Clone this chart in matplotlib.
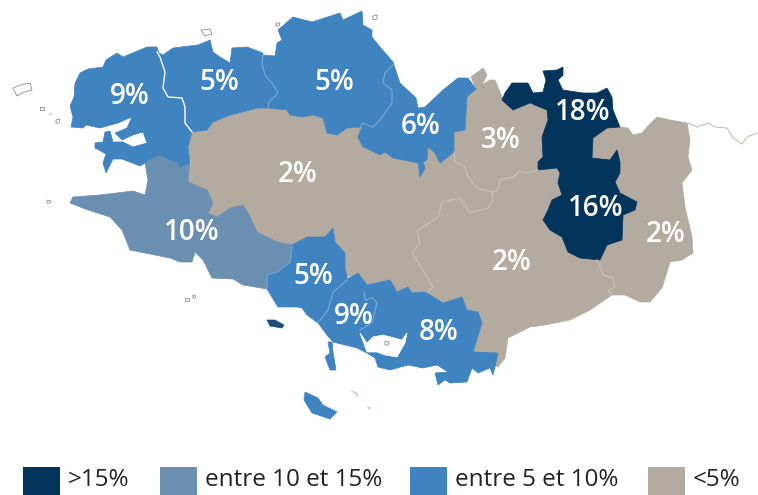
"""Brittany choropleth, outlines traced in image pixels (758x495)."""
import matplotlib
matplotlib.use("Agg")
import matplotlib.pyplot as plt
from matplotlib.patches import Polygon, Rectangle

DARK = "#03345c"
STEEL = "#6a8fb0"
BLUE = "#4083c1"
TAN = "#b3aaa0"

tan_outline = [
    (192,132),(207,130),(213,122),(230,115),(258,108),(268,108),(287,110),(290,115),(302,117),(313,115),
    (323,118),(327,133),(337,135),(347,128),(362,127),(358,137),(363,147),(370,150),(380,155),(385,152),
    (393,158),(403,160),(418,163),(420,177),(425,168),(423,162),(427,160),(428,147),(435,153),(440,163),
    (454,152),(454,132),(465,130),(467,97),(476,89),(471,77),(483,68),(487,75),(482,85),(490,80),(495,80),
    (502,97),(620,127),(628,128),(633,135),(642,133),(647,127),(657,117),(670,120),(687,123),(690,140),
    (688,157),(692,170),(682,183),(685,207),(692,237),(693,253),(682,260),(670,262),(662,288),(650,302),
    (640,302),(625,295),(612,295),(590,310),(570,320),(545,325),(530,327),(508,338),(505,358),(498,367),
    (473,352),(482,323),(478,312),(467,310),(462,297),(443,303),(425,292),(412,293),(408,287),(397,292),
    (390,280),(367,285),(358,273),(347,277),(345,268),(345,253),(335,242),(333,228),(325,237),(307,237),
    (292,245),(277,242),(257,232),(248,213),(243,205),(230,208),(217,217),(208,213),(213,203),(207,190),
    (188,182),(191,163),(188,147),
]
quimper = [
    (190,163),(180,167),(178,162),(170,160),(160,155),(150,159),(145,163),(148,180),(145,195),(133,191),
    (100,195),(73,197),(70,203),(88,210),(110,217),(122,230),(130,250),(170,258),(180,262),(192,262),
    (195,252),(203,260),(212,278),(233,279),(243,285),(267,289),(267,275),(277,272),(290,262),(292,245),
    (277,242),(257,232),(248,213),(243,205),(230,208),(217,217),(208,213),(213,203),(207,190),(188,182),
]
brest = [
    (157,47),(147,47),(135,52),(123,57),(117,53),(106,60),(103,67),(88,69),(80,73),(75,83),(74,97),(70,106),
    (73,117),(71,127),(83,128),(86,125),(100,128),(118,123),(132,117),(127,128),(115,133),(122,140),(133,135),
    (143,132),(147,143),(133,147),(123,142),(113,142),(110,131),(105,132),(103,142),(95,143),(95,148),(106,154),
    (103,163),(106,173),(113,159),(122,159),(140,166),(145,163),(150,159),(160,155),(170,160),(178,162),
    (180,167),(190,163),(188,147),(192,132),(185,123),(185,107),(182,98),(168,97),(163,88),(165,72),(160,57),
]
morlaix = [
    (157,52),(163,55),(173,48),(198,45),(210,40),(213,52),(220,57),(230,63),(232,48),(247,47),(263,53),
    (262,63),(265,75),(272,83),(278,93),(269,102),(268,108),(258,108),(230,115),(213,122),(207,130),(192,132),
    (185,123),(185,107),(182,98),(168,97),(163,88),(165,72),(160,57),
]
st_brieuc = [
    (263,55),(275,56),(277,43),(282,40),(278,30),(293,17),(312,22),(340,13),(343,20),(362,11),(363,25),
    (372,30),(372,37),(380,47),(393,62),(393,65),(385,73),(383,83),(392,90),(392,103),(380,120),(373,127),
    (362,127),(347,128),(337,135),(327,133),(323,118),(313,115),(302,117),(290,115),(287,110),(268,108),
    (269,102),(278,93),(272,83),(265,75),(262,63),
]
dinan = [
    (393,62),(400,83),(416,98),(418,108),(425,107),(443,90),(458,78),(468,78),(476,89),(467,97),(465,130),
    (454,132),(454,152),(440,163),(435,153),(428,147),(427,160),(423,162),(425,168),(420,177),(418,163),
    (403,160),(393,158),(385,152),(380,155),(370,150),(363,147),(358,137),(362,127),(373,127),(380,120),
    (392,103),(392,90),(383,83),(385,73),
]
lorient = [
    (292,245),(307,237),(325,237),(333,228),(335,242),(345,253),(345,268),(347,277),(347,280),(333,292),
    (328,310),(318,323),(307,315),(302,308),(297,307),(278,307),(267,289),(267,275),(277,272),(290,262),
]
vannes_west = [
    (347,279),(358,273),(367,285),(364,292),(365,300),(373,298),(377,303),(372,323),(360,330),(360,333),
    (365,352),(357,348),(333,342),(327,335),(318,323),(328,310),(333,292),
]
vannes_east = [
    (364,292),(367,285),(390,280),(397,292),(408,287),(412,293),(425,292),(443,303),(462,297),(467,310),
    (478,312),(482,323),(473,352),(498,353),(495,367),(493,375),(490,368),(478,373),(472,368),(467,382),
    (450,383),(445,380),(438,385),(435,373),(448,372),(437,365),(423,368),(408,365),(390,370),(378,367),
    (375,358),(365,352),(360,333),(360,330),(372,323),(377,303),(373,298),(365,300),
]
morbihan_gulf = [
    (360,333),(367,343),(373,337),(383,335),(402,340),(407,333),(405,343),(397,357),(385,355),(377,352),(367,352),
]
quiberon = [(332,342),(333,352),(336,370),(330,370),(325,357),(330,353),(328,342)]
belle_ile = [(305,392),(304,400),(312,413),(330,419),(337,412),(323,405),(318,398)]
groix = [(267,320),(270,326),(282,328),(284,325),(275,320)]
north_east = [
    (502,100),(505,93),(512,83),(528,83),(533,93),(543,92),(546,80),(543,71),(557,70),(563,67),(563,75),
    (558,80),(563,90),(583,93),(597,93),(607,88),(612,97),(613,110),(620,127),(607,128),(593,138),(592,158),
    (610,160),(617,150),(620,162),(620,173),(615,182),(620,193),(637,202),(635,210),(623,215),(622,240),
    (607,245),(600,260),(580,258),(568,252),(562,237),(550,230),(543,220),(548,210),(552,200),(562,195),
    (558,183),(560,173),(557,168),(538,170),(538,162),(543,157),(542,137),(548,120),(547,110),(530,103),(513,110),
]

tan_borders = [
    [(454,152),(455,162),(465,167),(468,177),(477,188),(492,192),(493,200),(488,208),(470,213),(460,198),
     (442,202),(438,217),(417,231),(420,243),(412,253),(423,270),(433,287),(428,292)],
    [(492,192),(498,190),(500,180),(513,177),(520,171),(527,173),(538,170)],
    [(597,260),(603,275),(613,278),(615,287),(608,290),(612,295)],
]
blue_borders = [
    [(263,55),(262,63),(265,75),(272,83),(278,93),(269,102),(268,108)],
    [(393,65),(385,73),(383,83),(392,90),(392,103),(380,120),(373,127),(362,123),(359,132)],
    [(267,289),(267,275),(277,272),(290,262),(292,247)],
    [(347,280),(333,292),(328,310),(318,323)],
    [(364,292),(365,300),(373,298),(377,303),(372,323),(360,330)],
]
brest_border = [(157,52),(160,57),(165,72),(163,88),(168,97),(182,98),(185,107),(185,123),(192,132)]
east_frontier = [(688,123),(697,127),(708,123),(715,127),(727,128),(733,138),(742,144),(747,137),(757,133)]

small_islands = [
    [(13,88),(20,85),(30,83),(32,90),(22,93),(17,96)],
    [(201,30),(210,29),(212,34),(205,36)],
    [(40,107),(44,107),(44,110),(40,110)],
    [(56,120),(60,119),(59,123),(56,123)],
    [(276,23),(280,23),(279,26),(276,26)],
    [(373,16),(377,15),(377,19),(373,20)],
    [(47,200),(51,201),(50,203),(47,203)],
    [(185,298),(189,298),(189,301),(185,301)],
    [(193,295),(196,296),(195,298),(193,298)],
    [(385,341),(389,342),(388,345),(385,345)],
]
pale_islands = [[(49,113),(52,114),(51,115)], [(351,391),(357,393),(358,397),(354,393)], [(367,407),(371,408),(369,409)]]

label_texts = ["9%", "5%", "5%", "6%", "3%", "18%", "16%", "2%", "2%", "2%", "10%", "5%", "9%", "8%"]
label_x = [130, 219, 334, 421, 501, 583, 596, 666, 512, 298, 192, 313, 354, 439]
label_y = [97, 83, 82, 127, 141, 113, 208, 234, 262, 175, 232, 277, 317, 333]

legend_labels = [">15%", "entre 10 et 15%", "entre 5 et 10%", "<5%"]
legend_colors = [DARK, STEEL, BLUE, TAN]
legend_x = [23, 160, 410, 648]

plt.rcParams["font.family"] = ["Open Sans", "DejaVu Sans"]

fig = plt.figure(figsize=(7.58, 4.95), dpi=100)
ax = fig.add_axes([0, 0, 1, 1])
ax.set_xlim(0, 758)
ax.set_ylim(495, 0)
ax.axis("off")

for shape, col in [(tan_outline, TAN), (quimper, STEEL), (brest, BLUE), (morlaix, BLUE), (st_brieuc, BLUE),
                   (dinan, BLUE), (lorient, BLUE), (vannes_west, BLUE), (vannes_east, BLUE),
                   (quiberon, BLUE), (belle_ile, BLUE), (groix, "#1f4e79"), (north_east, DARK)]:
    ax.add_patch(Polygon(shape, closed=True, facecolor=col, edgecolor=col, lw=0.5))
ax.add_patch(Polygon(morbihan_gulf, closed=True, facecolor="white", edgecolor="white", lw=0.5))

for line in tan_borders:
    ax.plot(*zip(*line), color="#c9c3bb", lw=0.8)
for line in blue_borders:
    ax.plot(*zip(*line), color="#7aa9d6", lw=0.8)
ax.plot(*zip(*brest_border), color="white", lw=1.0)
ax.plot(*zip(*east_frontier), color="#c4beb6", lw=0.8)

for shape in small_islands:
    ax.add_patch(Polygon(shape, closed=True, facecolor="white", edgecolor="#8a8a8a", lw=0.6))
for shape in pale_islands:
    ax.add_patch(Polygon(shape, closed=True, facecolor="#bcd4ea", edgecolor="#bcd4ea", lw=0.5))

for txt, x, y in zip(label_texts, label_x, label_y):
    ax.text(x, y, txt, color="white", fontsize=20, fontweight="semibold", ha="center", va="center")

for txt, col, x in zip(legend_labels, legend_colors, legend_x):
    ax.add_patch(Rectangle((x, 467), 37, 28, facecolor=col, edgecolor="none"))
    ax.text(x + 45, 480, txt, color="#222222", fontsize=17.5, ha="left", va="center")

fig.savefig("out.png", dpi=100)
